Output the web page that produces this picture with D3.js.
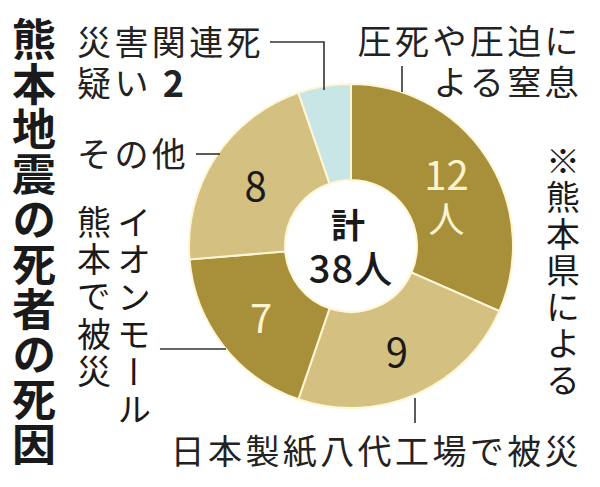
<!DOCTYPE html>
<html>
<head>
<meta charset="utf-8">
<script src="https://cdn.jsdelivr.net/npm/d3@7"></script>
<style>
  body { margin: 0; background: #fff; }
  text { font-family: 'Noto Sans CJK JP', 'Noto Sans', sans-serif; }
</style>
</head>
<body>
<div id="chart"></div>
<script>

// DATA

var causes = ['圧死や圧迫による窒息', '日本製紙八代工場で被災', 'イオンモール熊本で被災', 'その他', '災害関連死疑い'];
var deaths = [12, 9, 7, 8, 2];
var sliceLabels = ['12', '9', '7', '8', ''];
var totalLabel = ['計', '38人'];
var titleText = '熊本地震の死者の死因';
var noteText = '※熊本県による';

var width = 600, height = 487;
var cx = 351, cy = 246;
var outerR = 162, innerR = 66;

var fills = ['#a8903a', '#d4c080', '#a8903a', '#d4c080', '#c8e6e6'];
var numColor = ['#fbf3d2', '#1a1a1a', '#fbf3d2', '#1a1a1a', '#1a1a1a'];

var svg = d3.select('#chart')
  .append('svg')
    .attr('width', width)
    .attr('height', height);

svg.append('rect')
  .attr('width', width)
  .attr('height', height)
  .attr('fill', '#fff');

// DONUT

var pie = d3.pie().sort(null).value(function(d) { return d; });
var arc = d3.arc().innerRadius(innerR).outerRadius(outerR);
var arcs = pie(deaths);

var g = svg.append('g')
  .attr('transform', 'translate(' + cx + ',' + cy + ')');

g.selectAll('path.slice')
  .data(arcs)
  .enter().append('path')
    .attr('class', 'slice')
    .attr('d', arc)
    .attr('fill', function(d, i) { return fills[i]; })
    .attr('stroke', '#fff6d6')
    .attr('stroke-width', 2);

// the blue slice has no number inside
var nums = g.selectAll('text.num')
  .data(arcs.filter(function(d, i) { return sliceLabels[i] != ''; }))
  .enter().append('text')
    .attr('class', 'num')
    .attr('text-anchor', 'middle')
    .attr('dominant-baseline', 'central')
    .attr('font-size', 40)
    .attr('fill', function(d) { return numColor[d.index]; });

nums.append('tspan')
  .attr('x', function(d) { return arc.centroid(d)[0]; })
  .attr('y', function(d) { return arc.centroid(d)[1] + (d.index == 0 ? -11 : 0); })
  .text(function(d) { return sliceLabels[d.index]; });

// 人 under the 12
nums.filter(function(d) { return d.index == 0; })
  .append('tspan')
    .attr('x', function(d) { return arc.centroid(d)[0]; })
    .attr('y', function(d) { return arc.centroid(d)[1] + 33; })
    .attr('font-size', 36)
    .text('人');

// total in the hole
var tot = g.append('text')
  .attr('text-anchor', 'middle')
  .attr('dominant-baseline', 'central')
  .attr('fill', '#1a1a1a');

tot.append('tspan')
  .attr('x', -3)
  .attr('y', -23)
  .attr('font-size', 34)
  .attr('font-weight', 700)
  .text(totalLabel[0]);

tot.append('tspan')
  .attr('x', 0)
  .attr('y', 20)
  .attr('font-size', 38)
  .attr('font-weight', 500)
  .attr('letter-spacing', 1)
  .text(totalLabel[1]);

// LEADERS

var leaders = [
  [[270, 42], [324, 42], [324, 90]],
  [[402, 66], [402, 92]],
  [[196, 154], [220, 154]],
  [[160, 349], [226, 349]],
  [[415, 398], [415, 423]]
];

svg.selectAll('path.leader')
  .data(leaders)
  .enter().append('path')
    .attr('class', 'leader')
    .attr('d', d3.line())
    .attr('fill', 'none')
    .attr('stroke', '#333')
    .attr('stroke-width', 1.6);

// HORIZONTAL LABELS (one text per label, one tspan per line)

function hlabel(x, ys, anchor, lines) {
  var t = svg.append('text')
    .attr('text-anchor', anchor)
    .attr('dominant-baseline', 'central')
    .attr('font-size', 34)
    .attr('letter-spacing', 3.4)
    .attr('fill', '#222');
  var spans = lines.map(function(s, i) {
    return t.append('tspan').attr('x', x).attr('y', ys[i]).text(s);
  });
  return spans;
}

var rel = hlabel(77, [40, 81], 'start', [causes[4].slice(0, 5), causes[4].slice(5) + ' ']);
rel[1].append('tspan').attr('font-weight', 700).attr('font-size', 36).text(deaths[4]);

hlabel(582, [39, 80], 'end', [causes[0].slice(0, 6), causes[0].slice(6)]);
hlabel(77, [152], 'start', [causes[3]]);
hlabel(582, [449], 'end', [causes[1]]);

// VERTICAL TEXT

function vlabel(xs, y, lines, size, weight, spacing) {
  var t = svg.append('text')
    .style('writing-mode', 'vertical-rl')
    .attr('font-size', size)
    .attr('font-weight', weight)
    .attr('letter-spacing', spacing)
    .attr('fill', '#1a1a1a');
  lines.forEach(function(s, i) {
    t.append('tspan').attr('x', xs[i]).attr('y', y).text(s);
  });
  return t;
}

vlabel([34], 17, [titleText], 44, 700, 1);
vlabel([134, 94], 205, [causes[2].slice(0, 6), causes[2].slice(6)], 34, 400, 3.4);
vlabel([563], 144, [noteText], 34, 400, 2.5);

</script>
</body>
</html>
